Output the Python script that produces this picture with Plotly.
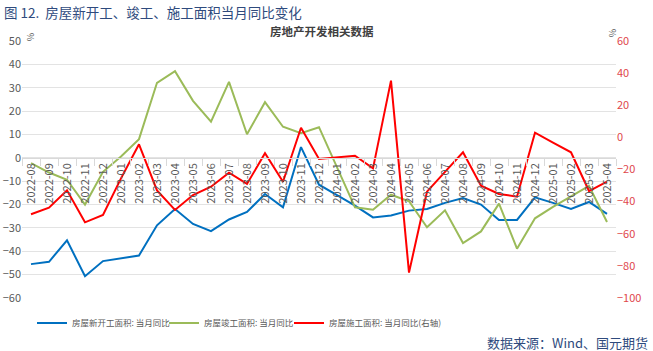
import plotly.graph_objects as go

months = ["2022-08","2022-09","2022-10","2022-11","2022-12","2023-01","2023-02","2023-03",
          "2023-04","2023-05","2023-06","2023-07","2023-08","2023-09","2023-10","2023-11",
          "2023-12","2024-01","2024-02","2024-03","2024-04","2024-05","2024-06","2024-07",
          "2024-08","2024-09","2024-10","2024-11","2024-12","2025-01","2025-02","2025-03","2025-04"]

new_start = [-45.5,-44.5,-35.3,-50.7,-44.2,-43.0,-41.8,-28.9,-21.9,-28.3,-31.4,-26.4,-23.2,-15.5,-21.2,4.6,
             -11.5,-16.0,-20.5,-25.5,-24.7,-22.6,-21.9,-19.3,-17.2,-20.0,-26.6,-26.6,-16.9,-19.3,-21.9,-18.9,-24.0]
completed = [-2.3,-6.3,-9.4,-20.0,-6.0,0.6,8.0,32.1,37.1,24.4,15.5,32.5,10.1,23.8,13.3,10.5,
             13.1,-3.8,-21.2,-22.2,-15.8,-18.6,-29.7,-22.5,-36.5,-31.5,-19.6,-38.9,-25.9,-21.0,-16.5,-12.0,-27.5]
under_constr = [-47.9,-43.8,-33.0,-52.9,-48.3,-25.5,-4.3,-33.0,-45.2,-35.9,-30.7,-22.0,-29.0,-9.9,-27.6,6.0,
                -13.4,-12.6,-11.4,-19.3,35.3,-84.2,-33.8,-21.5,-9.3,-30.1,-35.2,-36.9,2.9,-3.2,-9.3,-33.4,-27.6]

names = ["房屋新开工面积: 当月同比", "房屋竣工面积: 当月同比", "房屋施工面积: 当月同比(右轴)"]
colors = ["#0070C0", "#9BBB59", "#FF0000"]
left_ticks = list(range(-60, 51, 10))
right_ticks = list(range(-100, 61, 20))

FONT = "Noto Sans CJK SC, Microsoft YaHei, sans-serif"

def px_x(px):
    return (px - 22) / 594

def px_y(py):
    return (298 - py) / 257

fig = go.Figure()
fig.add_trace(go.Scatter(x=months, y=new_start, name=names[0], mode="lines", legend="legend",
                         line=dict(color=colors[0], width=2)))
fig.add_trace(go.Scatter(x=months, y=completed, name=names[1], mode="lines", legend="legend2",
                         line=dict(color=colors[1], width=2)))
fig.add_trace(go.Scatter(x=months, y=under_constr, name=names[2], mode="lines", yaxis="y2",
                         legend="legend3", line=dict(color=colors[2], width=2)))

def leg(px):
    return dict(orientation="h", x=px_x(px), xanchor="left", y=px_y(323), yanchor="middle",
                font=dict(size=8.5, color="#595959"), itemwidth=30,
                bgcolor="rgba(0,0,0,0)")

fig.update_layout(
    width=653, height=351,
    margin=dict(l=22, r=37, t=41, b=53),
    paper_bgcolor="white", plot_bgcolor="white",
    font=dict(family=FONT, size=11, color="#595959"),
    showlegend=True,
    legend=leg(32), legend2=leg(164), legend3=leg(289),
    xaxis=dict(type="category", anchor="free", position=60/110, showgrid=False,
               showline=True, linecolor="#D9D9D9", linewidth=1,
               ticks="outside", tickson="boundaries", ticklen=7, tickcolor="#D9D9D9",
               tickangle=-90, tickfont=dict(size=11, color="#595959"),
               range=[-0.5, len(months) - 0.5], automargin=False, zeroline=False),
    yaxis=dict(range=[-60, 50], tickvals=left_ticks, showgrid=True, gridcolor="#E3E3E3",
               gridwidth=1, zeroline=False, showline=False, ticks="",
               tickfont=dict(size=11, color="#595959"), automargin=False),
    yaxis2=dict(range=[-100, 60], tickvals=right_ticks, overlaying="y", side="right",
                showgrid=False, zeroline=False, showline=False, ticks="",
                tickfont=dict(size=11, color="#E0474C"), automargin=False),
)

anns = [
    dict(text="图 12.  房屋新开工、竣工、施工面积当月同比变化", x=px_x(2), y=px_y(12),
         xanchor="left", yanchor="middle", font=dict(size=13.5, color="#2E4A7D")),
    dict(text="<b>房地产开发相关数据</b>", x=px_x(322), y=px_y(31),
         xanchor="center", yanchor="middle", font=dict(size=11.5, color="#404040")),
    dict(text="%", x=px_x(31), y=px_y(37), xanchor="center", yanchor="middle",
         textangle=90, font=dict(size=9, color="#595959")),
    dict(text="%", x=px_x(613), y=px_y(33), xanchor="center", yanchor="middle",
         textangle=90, font=dict(size=9, color="#595959")),
    dict(text="数据来源：Wind、国元期货", x=px_x(650), y=px_y(342),
         xanchor="right", yanchor="middle", font=dict(size=13, color="#2E4A7D")),
]
for a in anns:
    a.update(xref="paper", yref="paper", showarrow=False)
fig.update_layout(annotations=anns)

fig.write_html("out.html")
